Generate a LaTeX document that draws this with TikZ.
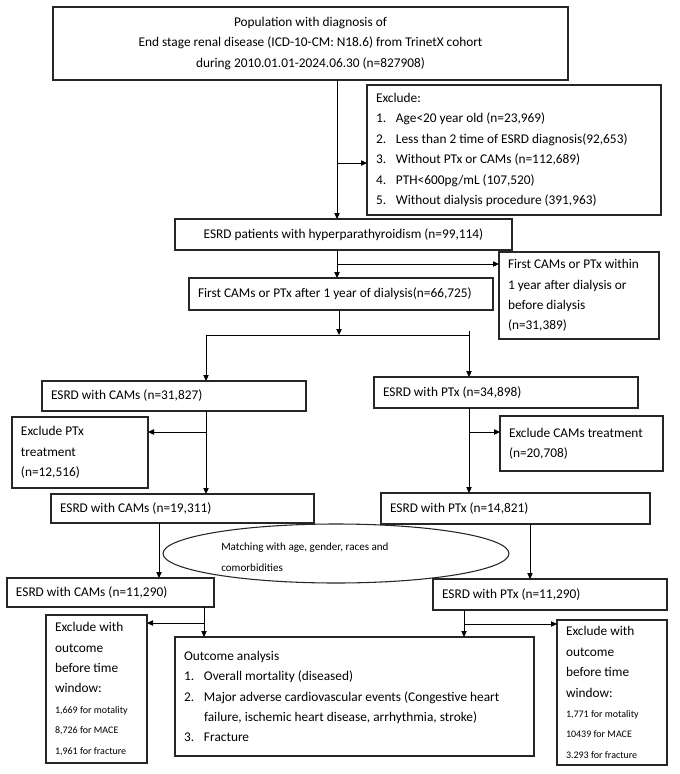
\documentclass[tikz,border=0pt]{standalone}
\usepackage{fontspec}
\setmainfont{Carlito}
\usetikzlibrary{arrows.meta,shapes.geometric}
\tikzset{
  box/.style={draw=black!85, line width=0.8pt, anchor=north west, inner xsep=6.75pt,
    inner ysep=0pt, outer sep=0pt, align=flush left, font=\fontsize{10}{15.3}\selectfont},
  ctr/.style={align=flush center},
  arr/.style={draw=black, line width=0.75pt, -{Triangle[length=4.5pt,width=4pt]}},
  ln/.style={draw=black, line width=0.75pt},
}
\newcommand\pbox[7]{%
  \pgfmathsetmacro\pbW{(#4-#2)*0.75}%
  \pgfmathsetmacro\pbH{(#5-#3)*0.75}%
  \pgfmathsetmacro\pbT{(#4-#2)*0.75-13.5}%
  \node[box,#6,minimum width=\pbW pt,minimum height=\pbH pt,text width=\pbT pt] (#1) at (#2,#3) {#7};%
}
\newcommand\li[1]{\makebox[15pt][l]{#1}}
\newcommand\sm{\fontsize{7.5}{15.3}\selectfont}
\begin{document}
\begin{tikzpicture}[x=0.75pt,y=-0.75pt]
\useasboundingbox (0,0) rectangle (679,774);
\fill[white] (0,0) rectangle (679,774);

\pbox{top}{53}{7}{568}{80}{ctr}{Population with diagnosis of\\End stage renal disease (ICD-10-CM: N18.6) from TrinetX cohort\\during 2010.01.01-2024.06.30 (n=827908)}
\pbox{excl1}{367}{85}{661}{215}{}{Exclude:\\\li{1.}Age<20 year old (n=23,969)\\\li{2.}Less than 2 time of ESRD diagnosis(92,653)\\\li{3.}Without PTx or CAMs (n=112,689)\\\li{4.}PTH<600pg/mL (107,520)\\\li{5.}Without dialysis procedure (391,963)}
\pbox{hpt}{175}{219}{512}{250}{ctr}{ESRD patients with hyperparathyroidism (n=99,114)}
\pbox{within}{499}{252}{659}{339}{}{First CAMs or PTx within\\1 year after dialysis or\\before dialysis\\(n=31,389)}
\pbox{after}{189}{278}{493}{310}{}{First CAMs or PTx after 1 year of dialysis(n=66,725)}
\pbox{cams1}{42}{381}{306}{411}{}{ESRD with CAMs (n=31,827)}
\pbox{ptx1}{374}{377}{638}{408}{}{ESRD with PTx (n=34,898)}
\pbox{exclPTx}{12}{417}{148}{488}{}{Exclude PTx\\treatment\\(n=12,516)}
\pbox{exclCAM}{500}{416}{663}{471}{}{Exclude CAMs treatment\\(n=20,708)}
\pbox{cams2}{51}{494}{314}{523}{}{ESRD with CAMs (n=19,311)}
\pbox{ptx2}{381}{493}{650}{524}{}{ESRD with PTx (n=14,821)}
\pbox{cams3}{7}{578}{214}{607}{}{ESRD with CAMs (n=11,290)}
\pbox{ptx3}{433}{579}{667}{610}{}{ESRD with PTx (n=11,290)}
\pbox{exclL}{46}{615}{147}{763}{}{Exclude with\\outcome\\before time\\window:\\{\sm 1,669 for motality}\\{\sm 8,726 for MACE}\\{\sm 1,961 for fracture}}
\pbox{outcome}{175}{637}{534}{756}{}{Outcome analysis\\\li{1.}Overall mortality (diseased)\\\li{2.}Major adverse cardiovascular events (Congestive heart\\\hspace*{15pt}failure, ischemic heart disease, arrhythmia, stroke)\\\li{3.}Fracture}
\pbox{exclR}{557}{620}{667}{765}{}{Exclude with\\outcome\\before time\\window:\\{\sm 1,771 for motality}\\{\sm 10439 for MACE}\\{\sm 3.293 for fracture}}

\node[draw=black!85, line width=0.8pt, ellipse, inner sep=0pt, outer sep=0pt,
  minimum width=259.5pt, minimum height=44.25pt] (match) at (336,553.5) {};
\node[anchor=west, inner sep=0pt, align=flush left, font=\fontsize{8.3}{15.75}\selectfont]
  (matchtext) at (221,557.5) {Matching with age, gender, races and\\comorbidities};

% connectors
\coordinate (m1) at (337,163);
\draw[arr] (top.south -| m1) -- (hpt.north -| m1);
\draw[arr] (m1) -- (m1 -| excl1.west);
\coordinate (m2) at (337,264);
\draw[arr] (hpt.south -| m2) -- (after.north -| m2);
\draw[arr] (m2) -- (m2 -| within.west);
\coordinate (sp) at (339,335);
\coordinate (spL) at (206,335);
\coordinate (spR) at (469,335);
\coordinate (spT) at (469,331);
\draw[arr] (after.south -| sp) -- (sp);
\draw[ln] (spL) -- (spR);
\draw[arr] (spL) -- (spL |- cams1.north);
\draw[arr] (spT) -- (spT |- ptx1.north);
\coordinate (b1) at (206,432);
\draw[arr] (cams1.south -| b1) -- (cams2.north -| b1);
\draw[arr] (b1) -- (b1 -| exclPTx.east);
\coordinate (b2) at (469,432);
\draw[arr] (ptx1.south -| b2) -- (ptx2.north -| b2);
\draw[arr] (b2) -- (b2 -| exclCAM.west);
\coordinate (c1) at (159,540);
\draw[arr] (cams2.south -| c1) -- (cams3.north -| c1);
\coordinate (c2) at (530,540);
\draw[arr] (ptx2.south -| c2) -- (ptx3.north -| c2);
\coordinate (d1) at (204,623);
\draw[arr] (cams3.south -| d1) -- (outcome.north -| d1);
\draw[arr] (d1) -- (d1 -| exclL.east);
\coordinate (d2) at (464,624);
\draw[arr] (ptx3.south -| d2) -- (outcome.north -| d2);
\draw[arr] (d2) -- (d2 -| exclR.west);
\end{tikzpicture}
\end{document}
